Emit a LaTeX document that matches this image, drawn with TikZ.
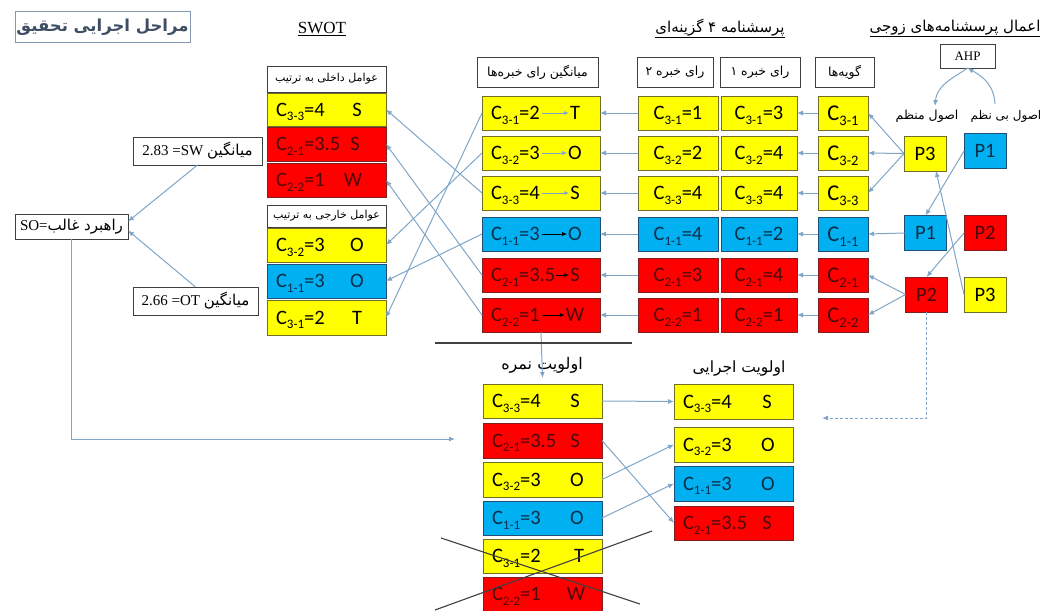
\documentclass[tikz,border=0pt]{standalone}
\usepackage{fontspec}
\setmainfont{Carlito}
\newfontfamily\arabicfont[Script=Arabic]{DejaVu Sans}
\newfontfamily\timesf{Liberation Serif}
\TeXXeTstate=1
\usetikzlibrary{arrows.meta}
\definecolor{cyel}{HTML}{FFFF00}
\definecolor{cred}{HTML}{FF0000}
\definecolor{cblue}{HTML}{00B0F0}
\definecolor{byel}{HTML}{6F6F2A}
\definecolor{bred}{HTML}{7F1F1F}
\definecolor{bblue}{HTML}{1F4E79}
\definecolor{tred}{HTML}{4A0A0A}
\definecolor{tblue}{HTML}{0E2E4A}
\definecolor{arr}{HTML}{7FA6C8}
\definecolor{hgray}{HTML}{3F3F3F}
\definecolor{ttl}{HTML}{3E4E63}
\definecolor{ttlb}{HTML}{8497B0}
\definecolor{xgray}{HTML}{404040}
\newcommand\Cs[1]{C\raisebox{-4.5pt}{\fontsize{13}{13}\selectfont #1}}
\newcommand\Ci[1]{C\raisebox{-5pt}{\fontsize{14.5}{15}\selectfont #1}}
\newcommand\fa[1]{{\arabicfont\beginR #1\endR}}
\newcommand\pairtxt[5]{%
  \node[lbl,anchor=west,text=#5] (#1l) at ([xshift=9pt]#1.west) {#2};
  \node[lbl,text=#5] (#1r) at ([xshift=-#4pt]#1.east) {#3};}
\begin{document}
\begin{tikzpicture}[x=1pt,y=-1pt,
  every node/.style={inner sep=0pt,outer sep=0pt},
  cbox/.style={line width=0.9pt,minimum height=34pt},
  ybox/.style={cbox,draw=byel,fill=cyel,text=black},
  rbox/.style={cbox,draw=bred,fill=cred,text=tred},
  bbox/.style={cbox,draw=bblue,fill=cblue,text=tblue},
  hbox/.style={draw=hgray,line width=0.8pt,fill=white},
  lbl/.style={font=\fontsize{20.5}{22}\selectfont,text height=13pt,text depth=0pt},
  ilbl/.style={font=\fontsize{22.5}{24}\selectfont,text height=14.5pt,text depth=0pt},
  hdr/.style={hbox,minimum height=30pt,font=\fontsize{12.5}{14}\selectfont},
  conn/.style={draw=arr,line width=1pt,-{Latex[length=6pt,width=5pt]}},
  inarr/.style={line width=1pt,-{Latex[length=5pt,width=4pt]}},
  strike/.style={draw=xgray,line width=1.1pt},
]
\useasboundingbox (0,0) rectangle (1043,610);

% titles
\node[draw=ttlb,line width=1pt,minimum width=175pt,minimum height=31pt,
      font=\fontsize{16.5}{18}\selectfont\bfseries,text=ttl] (title) at (102.5,27.5) {\fa{مراحل اجرایی تحقیق}};
\node[font=\timesf\fontsize{17}{20}\selectfont] (swott) at (322,28) {SWOT};
\draw[line width=0.8pt] ([yshift=-2pt]swott.south west) -- ([yshift=-2pt]swott.south east);
\node[font=\fontsize{15}{17}\selectfont] (t2) at (720,28) {\fa{پرسشنامه ۴ گزینه‌ای}};
\draw[line width=0.8pt] ([yshift=-1pt]t2.south west) -- ([yshift=-1pt]t2.south east);
\node[font=\fontsize{15}{17}\selectfont] (t3) at (955,28) {\fa{اعمال پرسشنامه‌های زوجی}};
\draw[line width=0.8pt] ([yshift=-1pt]t3.south west) -- ([yshift=-1pt]t3.south east);

% column headers
\node[hdr,minimum width=121pt] (hav) at (537.5,72) {\fa{میانگین رای خبره‌ها}};
\node[hdr,minimum width=76pt] (he2) at (675,72) {\fa{رای خبره ۲}};
\node[hdr,minimum width=80pt] (he1) at (760,72) {\fa{رای خبره ۱}};
\node[hdr,minimum width=59pt] (hit) at (844.5,72) {\fa{گویه‌ها}};

% average column
\node[ybox,minimum width=118pt] (a1) at (541,113) {};
\node[ybox,minimum width=118pt] (a2) at (541,153) {};
\node[ybox,minimum width=118pt] (a3) at (541,193) {};
\node[bbox,minimum width=118pt] (a4) at (541,234) {};
\node[rbox,minimum width=118pt] (a5) at (541,275) {};
\node[rbox,minimum width=118pt] (a6) at (541,315) {};
\pairtxt{a1}{\Cs{3-1}=2}{T}{25}{black}
\pairtxt{a2}{\Cs{3-2}=3}{O}{25}{black}
\pairtxt{a3}{\Cs{3-3}=4}{S}{25}{black}
\pairtxt{a4}{\Cs{1-1}=3}{O}{25}{tblue}
\pairtxt{a5}{\Cs{2-1}=3.5}{S}{25}{tred}
\pairtxt{a6}{\Cs{2-2}=1}{W}{25}{tred}
\draw[inarr,arr] ([xshift=2pt]a1l.east) -- ([xshift=-1pt]a1r.west);
\draw[inarr,arr] ([xshift=2pt]a2l.east) -- ([xshift=-1pt]a2r.west);
\draw[inarr,arr] ([xshift=2pt]a3l.east) -- ([xshift=-1pt]a3r.west);
\draw[inarr,black] ([xshift=2pt]a4l.east) -- ([xshift=-1pt]a4r.west);
\draw[inarr,black] ([xshift=1pt]a5l.east) -- ([xshift=-1pt]a5r.west);
\draw[inarr,black] ([xshift=2pt]a6l.east) -- ([xshift=-1pt]a6r.west);

% expert 2
\node[ybox,lbl,minimum width=80pt] (e2a) at (678,113) {\Cs{3-1}=1};
\node[ybox,lbl,minimum width=80pt] (e2b) at (678,153) {\Cs{3-2}=2};
\node[ybox,lbl,minimum width=80pt] (e2c) at (678,193) {\Cs{3-3}=4};
\node[bbox,lbl,minimum width=80pt] (e2d) at (678,234) {\Cs{1-1}=4};
\node[rbox,lbl,minimum width=80pt] (e2e) at (678,275) {\Cs{2-1}=3};
\node[rbox,lbl,minimum width=80pt] (e2f) at (678,315) {\Cs{2-2}=1};
% expert 1
\node[ybox,lbl,minimum width=76pt] (e1a) at (759,113) {\Cs{3-1}=3};
\node[ybox,lbl,minimum width=76pt] (e1b) at (759,153) {\Cs{3-2}=4};
\node[ybox,lbl,minimum width=76pt] (e1c) at (759,193) {\Cs{3-3}=4};
\node[bbox,lbl,minimum width=76pt] (e1d) at (759,234) {\Cs{1-1}=2};
\node[rbox,lbl,minimum width=76pt] (e1e) at (759,275) {\Cs{2-1}=4};
\node[rbox,lbl,minimum width=76pt] (e1f) at (759,315) {\Cs{2-2}=1};
% items
\node[ybox,ilbl,minimum width=50pt] (ita) at (843,113) {\Ci{3-1}};
\node[ybox,ilbl,minimum width=50pt] (itb) at (843,153) {\Ci{3-2}};
\node[ybox,ilbl,minimum width=50pt] (itc) at (843,193) {\Ci{3-3}};
\node[bbox,ilbl,minimum width=50pt] (itd) at (843,234) {\Ci{1-1}};
\node[rbox,ilbl,minimum width=50pt] (ite) at (843,275) {\Ci{2-1}};
\node[rbox,ilbl,minimum width=50pt] (itf) at (843,315) {\Ci{2-2}};

% P boxes
\node[ybox,lbl,minimum width=42pt,minimum height=35pt] (m3) at (925,153.5) {P3};
\node[bbox,lbl,minimum width=42pt,minimum height=35pt] (b1) at (985,151) {P1};
\node[bbox,lbl,minimum width=42pt,minimum height=35pt] (m1) at (925.5,233) {P1};
\node[rbox,lbl,minimum width=42pt,minimum height=35pt] (b2) at (985,233) {P2};
\node[rbox,lbl,minimum width=42pt,minimum height=35pt] (m2) at (926.5,294.5) {P2};
\node[ybox,lbl,minimum width=42pt,minimum height=35pt] (b3) at (985,294.5) {P3};
\node[font=\fontsize{12.5}{14}\selectfont] (lm) at (927,116) {\fa{اصول منظم}};
\node[font=\fontsize{12}{14}\selectfont] (lb) at (1006,116) {\fa{اصول بی نظم}};
\node[hbox,minimum width=55pt,minimum height=24pt,font=\timesf\fontsize{13}{15}\selectfont] (ahp) at (967.5,56) {AHP};
\coordinate (cb) at (995,104);
\coordinate (cm) at (935,106);

% SWOT column
\node[hbox,minimum width=119pt,minimum height=26pt,font=\fontsize{11}{12}\selectfont] (hs1) at (326.5,79) {\fa{عوامل داخلی به ترتیب}};
\node[ybox,minimum width=119pt,minimum height=33pt] (s1) at (326.5,109.5) {};
\node[rbox,minimum width=119pt] (s2) at (326.5,144) {};
\node[rbox,minimum width=119pt] (s3) at (326.5,180) {};
\node[hbox,minimum width=119pt,minimum height=22pt,font=\fontsize{11}{12}\selectfont] (hs2) at (326.5,216) {\fa{عوامل خارجی به ترتیب}};
\node[ybox,minimum width=119pt] (s4) at (326.5,245) {};
\node[bbox,minimum width=119pt] (s5) at (326.5,281) {};
\node[ybox,minimum width=119pt,minimum height=35pt] (s6) at (326.5,317.5) {};
\pairtxt{s1}{\Cs{3-3}=4}{S}{29}{black}
\pairtxt{s2}{\Cs{2-1}=3.5}{S}{31}{tred}
\pairtxt{s3}{\Cs{2-2}=1}{W}{33}{tred}
\pairtxt{s4}{\Cs{3-2}=3}{O}{29}{black}
\pairtxt{s5}{\Cs{1-1}=3}{O}{29}{tblue}
\pairtxt{s6}{\Cs{3-1}=2}{T}{29}{black}

% averages & strategy
\node[hbox,minimum width=129pt,minimum height=28pt,font=\timesf\fontsize{15}{17}\selectfont] (sw) at (197.5,151) {2.83 =SW \fa{میانگین}};
\node[hbox,minimum width=125pt,minimum height=28pt,font=\timesf\fontsize{15}{17}\selectfont] (ot) at (195.5,301) {2.66 =OT \fa{میانگین}};
\node[hbox,minimum width=113pt,minimum height=25pt,font=\timesf\fontsize{15}{17}\selectfont] (so) at (71.5,226.5) {SO=\fa{راهبرد غالب}};
\coordinate (soend) at (455,439);

% priority columns
\node[font=\fontsize{16}{18}\selectfont] (lp1) at (542,365) {\fa{اولویت نمره}};
\node[font=\fontsize{15.5}{18}\selectfont] (lp2) at (739,368) {\fa{اولویت اجرایی}};
\node[ybox,minimum width=119pt] (p1) at (542.5,401) {};
\node[rbox,minimum width=119pt,minimum height=35pt] (p2) at (542.5,440.5) {};
\node[ybox,minimum width=119pt,minimum height=35pt] (p3) at (542.5,479.5) {};
\node[bbox,minimum width=119pt] (p4) at (542.5,518) {};
\node[ybox,minimum width=119pt] (p5) at (542.5,556) {};
\node[rbox,minimum width=119pt] (p6) at (542.5,594) {};
\pairtxt{p1}{\Cs{3-3}=4}{S}{27}{black}
\pairtxt{p2}{\Cs{2-1}=3.5}{S}{27}{tred}
\pairtxt{p3}{\Cs{3-2}=3}{O}{25}{black}
\pairtxt{p4}{\Cs{1-1}=3}{O}{25}{tblue}
\pairtxt{p5}{\Cs{3-1}=2}{T}{23}{black}
\pairtxt{p6}{\Cs{2-2}=1}{W}{26}{tred}
\node[ybox,minimum width=119pt,minimum height=35pt] (q1) at (733.5,401.5) {};
\node[ybox,minimum width=119pt,minimum height=35pt] (q2) at (733.5,444.5) {};
\node[bbox,minimum width=119pt,minimum height=35pt] (q3) at (733.5,483.5) {};
\node[rbox,minimum width=119pt] (q4) at (733.5,523) {};
\pairtxt{q1}{\Cs{3-3}=4}{S}{26}{black}
\pairtxt{q2}{\Cs{3-2}=3}{O}{25}{black}
\pairtxt{q3}{\Cs{1-1}=3}{O}{25}{tblue}
\pairtxt{q4}{\Cs{2-1}=3.5}{S}{26}{tred}
\coordinate (dashend) at (822,418);

% connectors
\draw[conn] (e2a.west) -- (a1.east);
\draw[conn] (e2b.west) -- (a2.east);
\draw[conn] (e2c.west) -- (a3.east);
\draw[conn] (e2d.west) -- (a4.east);
\draw[conn] (e2e.west) -- (a5.east);
\draw[conn] (e2f.west) -- (a6.east);
\draw[conn] (ita.west) -- (e1a.east);
\draw[conn] (itb.west) -- (e1b.east);
\draw[conn] (itc.west) -- (e1c.east);
\draw[conn] (itd.west) -- (e1d.east);
\draw[conn] (ite.west) -- (e1e.east);
\draw[conn] (itf.west) -- (e1f.east);
\draw[conn] (m3.west) -- (ita.east);
\draw[conn] (m3.west) -- (itb.east);
\draw[conn] (m3.west) -- (itc.east);
\draw[conn] (m1.west) -- (itd.east);
\draw[conn] (m2.west) -- (ite.east);
\draw[conn] (m2.west) -- (itf.east);
\draw[conn] (b1.west) -- (m1.north);
\draw[conn] (b2.west) -- (m2.north);
\draw[conn] (b3.west) -- ([xshift=11pt]m3.south);
\draw[conn] (cb) .. controls (994,82) and (978,74) .. (ahp.south);
\draw[conn] (ahp.south) .. controls (957,76) and (937,84) .. (cm);
\draw[conn] (a3.west) -- (s1.east);
\draw[conn] (a5.west) -- (s2.east);
\draw[conn] (a6.west) -- (s3.east);
\draw[conn] (a2.west) -- (s4.east);
\draw[conn] (a4.west) -- (s5.east);
\draw[conn] (a1.west) -- (s6.east);
\draw[conn] (sw.south) -- ([yshift=5pt]so.east);
\draw[conn] (ot.north) -- ([yshift=-4pt]so.east);
\draw[conn] (so.south) |- (soend);
\draw[conn] (a6.south) -- ([yshift=6pt]p1.north);
\draw[conn,dash pattern=on 3pt off 2pt] (m2.south) |- (dashend);
\draw[conn] (p1.east) -- (q1.west);
\draw[conn] (p2.east) -- (q4.west);
\draw[conn] (p3.east) -- (q2.west);
\draw[conn] (p4.east) -- (q3.west);

% separator and strike lines
\draw[strike] (435,343) -- (632,343);
\draw[strike] (441,538) -- (640,604);
\draw[strike] (435,610) -- (652,531);
\end{tikzpicture}
\end{document}
